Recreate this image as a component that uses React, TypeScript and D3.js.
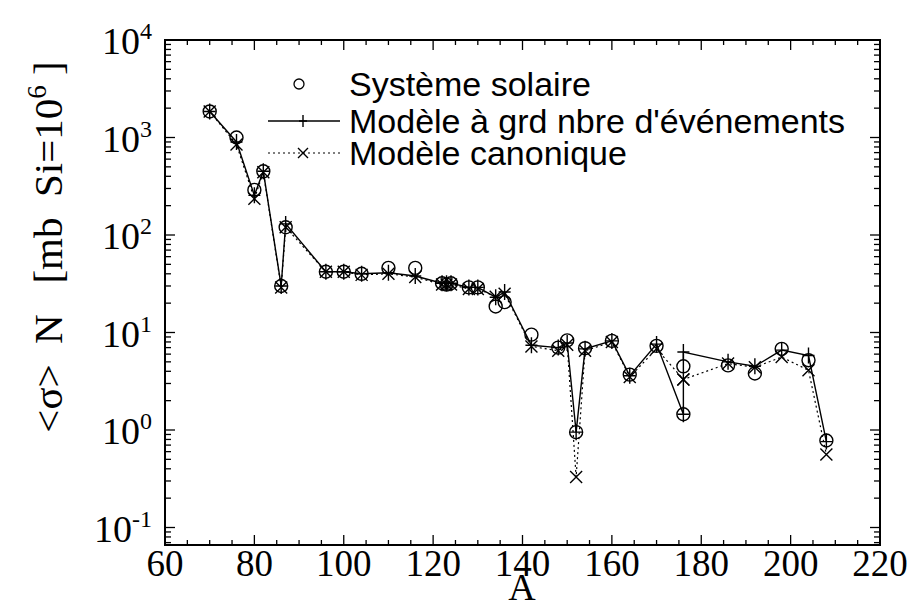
import React from "react";
import * as d3 from "d3";

const massNumbers = [70, 76, 80, 82, 86, 87, 96, 100, 104, 110, 116, 122, 123, 124, 128, 130, 134, 136, 142, 148, 150, 152, 154, 160, 164, 170, 176, 176, 186, 192, 198, 204, 208];
const solarValues = [1850, 1000, 290, 450, 30, 120, 42, 42, 40, 46, 46, 32, 31, 32, 29, 29, 18.5, 20.5, 9.5, 7.0, 8.3, 0.95, 6.9, 8.2, 3.7, 7.3, 1.45, 4.5, 4.6, 3.8, 6.8, 5.2, 0.78];
const largeEventValues = [1850, 900, 255, 450, 30, 130, 42, 42, 40, 41, 38, 32, 32, 32, 29, 29, 23, 26, 7.4, 7.0, 7.8, 0.95, 6.8, 8.2, 3.6, 7.6, 1.45, 6.3, 5.0, 4.5, 6.6, 5.8, 0.76];
const canonicalValues = [1850, 850, 235, 440, 29, 120, 42, 42, 39, 40, 37, 31, 31, 31, 28, 28, 23.3, 25, 7.2, 6.5, 7.5, 0.33, 6.5, 8.0, 3.5, 6.8, 3.3, 3.3, 4.8, 4.4, 5.6, 4.1, 0.56];

const xTickValues = [60, 80, 100, 120, 140, 160, 180, 200, 220];
const yDecades = [-1, 0, 1, 2, 3, 4];
const legendLabels = ["Système solaire", "Modèle à grd nbre d'événements", "Modèle canonique"];
const yTitleMain = "<σ>  N   [mb  Si=10";
const yTitleSup = "6";
const xTitle = "A";

const W = 912, H = 601;
const L = 165, R = 880, T = 40, B = 545;

export default function App() {
  const x = d3.scaleLinear().domain([60, 220]).range([L, R]);
  const yMin = Math.pow(10, 4 - (B - T) / 97.5);
  const y = d3.scaleLog().domain([yMin, 1e4]).range([B, T]);

  const pts = massNumbers.map((a, i) => ({ a, s: solarValues[i], m1: largeEventValues[i], m2: canonicalValues[i] }));
  const line1 = d3.line<any>().x((d) => x(d.a)).y((d) => y(d.m1));
  const line2 = d3.line<any>().x((d) => x(d.a)).y((d) => y(d.m2));

  const xMinor = d3.range(60, 221, 5);
  const yMinor: number[] = [];
  for (let e = -2; e <= 4; e++) {
    for (let k = 1; k <= 9; k++) {
      const v = k * Math.pow(10, e);
      if (v >= yMin && v <= 1e4) yMinor.push(v);
    }
  }

  const plus = (cx: number, cy: number, s: number, key: string) => (
    <path key={key} d={`M${cx - s},${cy}H${cx + s}M${cx},${cy - s - 2}V${cy + s + 2}`} stroke="#000" strokeWidth={1.4} fill="none" />
  );
  const cross = (cx: number, cy: number, s: number, key: string) => (
    <path key={key} d={`M${cx - s},${cy - s}L${cx + s},${cy + s}M${cx - s},${cy + s}L${cx + s},${cy - s}`} stroke="#000" strokeWidth={1.4} fill="none" />
  );

  return (
    <svg width={W} height={H} style={{ position: "absolute", left: 0, top: 0, background: "#fff" }}>
      <rect x={0} y={0} width={W} height={H} fill="#fff" />
      {xMinor.map((v) => {
        const major = v % 20 === 0;
        const len = major ? 10 : 5;
        return (
          <g key={"xt" + v}>
            <line x1={x(v)} x2={x(v)} y1={B} y2={B - len} stroke="#000" strokeWidth={1.3} />
            <line x1={x(v)} x2={x(v)} y1={T} y2={T + len} stroke="#000" strokeWidth={1.3} />
          </g>
        );
      })}
      {yMinor.map((v, i) => {
        const major = Math.abs(Math.log10(v) - Math.round(Math.log10(v))) < 1e-9;
        const len = major ? 10 : 6;
        return (
          <g key={"yt" + i}>
            <line x1={L} x2={L + len} y1={y(v)} y2={y(v)} stroke="#000" strokeWidth={1.3} />
            <line x1={R} x2={R - len} y1={y(v)} y2={y(v)} stroke="#000" strokeWidth={1.3} />
          </g>
        );
      })}
      <rect x={L} y={T} width={R - L} height={B - T} fill="none" stroke="#000" strokeWidth={2} />

      {xTickValues.map((v) => (
        <text key={"xl" + v} x={x(v)} y={576} textAnchor="middle" fontFamily="'Liberation Serif', serif" fontSize={37}>{v}</text>
      ))}
      {yDecades.map((e) => (
        <text key={"yl" + e} x={152} y={y(Math.pow(10, e)) + 14} textAnchor="end" fontFamily="'Liberation Serif', serif" fontSize={38}>
          10<tspan dy={-15} fontSize={24}>{e}</tspan>
        </text>
      ))}

      <text x={522} y={600} textAnchor="middle" fontFamily="'Liberation Serif', serif" fontSize={38}>{xTitle}</text>
      <text transform="translate(62,247) rotate(-90)" textAnchor="middle" fontFamily="'Liberation Serif', serif" fontSize={41} style={{ whiteSpace: "pre" }}>
        {yTitleMain}<tspan dy={-16} fontSize={27}>{yTitleSup}</tspan><tspan dy={16}> ]</tspan>
      </text>

      <path d={line2(pts) || ""} fill="none" stroke="#000" strokeWidth={1.2} strokeDasharray="2,3" />
      <path d={line1(pts) || ""} fill="none" stroke="#000" strokeWidth={1.4} />

      {pts.map((p, i) => (
        <circle key={"c" + i} cx={x(p.a)} cy={y(p.s)} r={6.5} fill="none" stroke="#000" strokeWidth={1.4} />
      ))}
      {pts.map((p, i) => plus(x(p.a), y(p.m1), 6, "p" + i))}
      {pts.map((p, i) => cross(x(p.a), y(p.m2), 6, "x" + i))}

      <circle cx={299} cy={84} r={5} fill="none" stroke="#000" strokeWidth={1.3} />
      <line x1={268} x2={340} y1={121} y2={121} stroke="#000" strokeWidth={1.3} />
      {plus(303, 121, 4, "lp")}
      <line x1={268} x2={340} y1={153} y2={153} stroke="#000" strokeWidth={1.2} strokeDasharray="2,3" />
      {cross(303, 153, 5, "lx")}
      {legendLabels.map((t, i) => (
        <text key={"lg" + i} x={349} y={[84, 121, 153][i]} dominantBaseline="central" fontFamily="'Liberation Sans', Arial, sans-serif" fontSize={34}>{t}</text>
      ))}
    </svg>
  );
}
